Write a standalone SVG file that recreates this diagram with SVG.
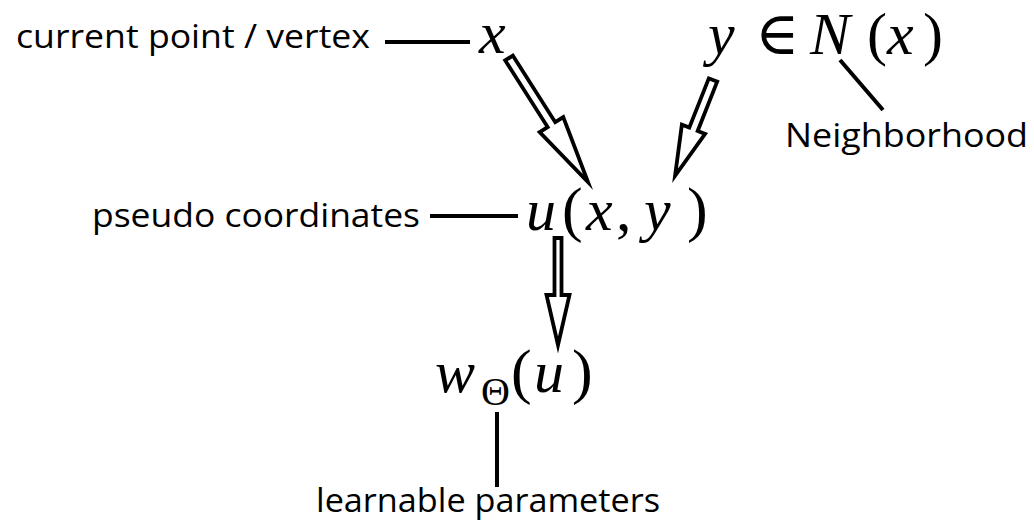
<svg xmlns="http://www.w3.org/2000/svg" width="1034" height="527" viewBox="0 0 1034 527">
<style>
.lbl{font-family:"Open Sans","Noto Sans","Liberation Sans",sans-serif;font-size:33px;fill:#000}
.m{font-family:"Liberation Serif","DejaVu Serif",serif;font-style:italic;font-size:60px;fill:#000}
.up{font-style:normal;font-size:62px}
.up2{font-style:normal}
.sub{font-style:normal;font-size:40px}
.ln{stroke:#000;stroke-width:4;fill:none}
.arr{fill:#fff;stroke:#000;stroke-width:3.8;stroke-linejoin:miter;stroke-miterlimit:10}
</style>
<rect width="1034" height="527" fill="#fff"/>
<g id="node-x">
<text class="lbl" x="16" y="48" textLength="354" lengthAdjust="spacingAndGlyphs">current point / vertex</text>
<text class="m" x="479" y="53">x</text>
</g>
<g id="node-y">
<text class="m" y="54"><tspan x="708">y</tspan><tspan class="up2" x="755">∈</tspan><tspan x="810">N</tspan><tspan class="up2" x="867">(</tspan><tspan x="887">x</tspan><tspan class="up2" x="923">)</tspan></text>
<text class="lbl" x="785" y="147" textLength="243" lengthAdjust="spacingAndGlyphs">Neighborhood</text>
</g>
<g id="node-u">
<text class="lbl" x="92" y="227" textLength="328" lengthAdjust="spacingAndGlyphs">pseudo coordinates</text>
<text class="m" y="230"><tspan x="526">u</tspan><tspan class="up" x="562">(</tspan><tspan x="586">x</tspan><tspan class="up" x="616">,</tspan><tspan x="644">y</tspan><tspan class="up" x="687">)</tspan></text>
</g>
<g id="node-w">
<text class="m" y="392"><tspan x="435">w</tspan><tspan class="sub" x="481" y="405">Θ</tspan><tspan class="up" x="511" y="392">(</tspan><tspan x="534">u</tspan><tspan class="up" x="572">)</tspan></text>
<text class="lbl" x="316" y="512" textLength="344" lengthAdjust="spacingAndGlyphs">learnable parameters</text>
</g>
<g id="connectors">
<line class="ln" x1="385" y1="42" x2="470" y2="42"/>
<line class="ln" x1="840" y1="60" x2="883" y2="110"/>
<line class="ln" x1="430" y1="216" x2="518" y2="216"/>
<line class="ln" x1="497" y1="412" x2="497" y2="487"/>
<polygon class="arr" transform="translate(509,58) rotate(57.5)" points="0,-4.5 79,-4.5 79,-14 147,0 79,14 79,4.5 0,4.5"/>
<polygon class="arr" transform="translate(713,80) rotate(111.6)" points="0,-4.5 53,-4.5 53,-12.5 103,0 53,12.5 53,4.5 0,4.5"/>
<polygon class="arr" transform="translate(558,238) rotate(90)" points="0,-3.5 57,-3.5 57,-11.5 107,0 57,11.5 57,3.5 0,3.5"/>
</g>
</svg>
